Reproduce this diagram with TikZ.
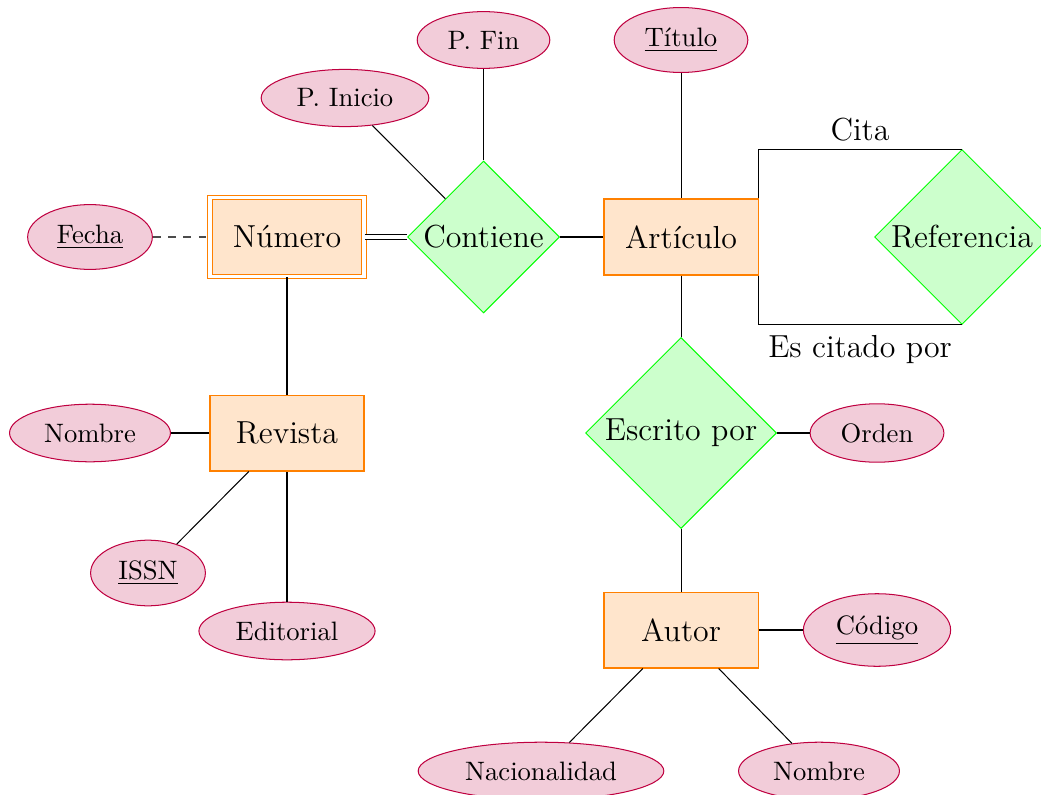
\documentclass[tikz,border=0pt]{standalone}
\usetikzlibrary{shapes.geometric}
\begin{document}
\begin{tikzpicture}[x=0.3922pt,y=-0.3922pt,
 entity/.style={rectangle,draw=orange,fill=orange!20,minimum width=60.4pt,minimum height=29.8pt,font=\fontsize{12.5}{15}\selectfont},
 weak/.style={entity,double,double distance=1.5pt,minimum height=31pt},
 rel/.style={diamond,draw=green,fill=green!20,inner sep=0pt,aspect=1,font=\fontsize{12.5}{15}\selectfont},
 attr/.style={ellipse,draw=purple,fill=purple!20,inner sep=4.3pt,font=\fontsize{10.45}{12.5}\selectfont},
 lbl/.style={font=\fontsize{12.5}{15}\selectfont}]
\useasboundingbox (0,0) rectangle (1041,795);
% entities and relationships
\node[weak] (num) at (287,237) {Número};
\node[rel,minimum size=59.6pt] (cont) at (483.5,237) {Contiene};
\node[entity] (art) at (681,237) {Artículo};
\node[rel,minimum size=68.6pt] (ref) at (962,237) {Referencia};
\node[rel,minimum size=74.9pt] (esc) at (681,433) {Escrito por};
\node[entity] (rev) at (287,433) {Revista};
\node[entity] (aut) at (681,630) {Autor};
% attributes
\node[attr] (fecha) at (90,237) {\underline{Fecha}};
\node[attr] (pini) at (345,98) {P. Inicio};
\node[attr] (pfin) at (483.5,40) {P. Fin};
\node[attr] (tit) at (681,40) {\underline{Título}};
\node[attr] (nomr) at (90,433) {Nombre};
\node[attr] (issn) at (148,573) {\underline{ISSN}};
\node[attr] (edit) at (287,631) {Editorial};
\node[attr] (orden) at (877,433) {Orden};
\node[attr] (cod) at (877,630) {\underline{Código}};
\node[attr] (nac) at (541,771) {Nacionalidad};
\node[attr] (noma) at (819,771) {Nombre};
% labels
\node[lbl] (cita) at (860,130) {Cita};
\node[lbl] (escit) at (860,350) {Es citado por};
% connectors
\draw[dashed,black!70] (fecha) -- (num);
\draw[double,double distance=1.5pt] (num.east) -- (cont.west);
\draw (pini) -- (cont);
\draw (pfin) -- (cont);
\draw (cont) -- (art);
\draw (tit) -- (art);
\draw (art.north east) |- (ref.north);
\draw (art.south east) |- (ref.south);
\draw (art) -- (esc);
\draw (esc) -- (orden);
\draw (esc) -- (aut);
\draw (aut) -- (cod);
\draw (aut) -- (nac);
\draw (aut) -- (noma);
\draw (num) -- (rev);
\draw (nomr) -- (rev);
\draw (issn) -- (rev);
\draw (edit) -- (rev);
\end{tikzpicture}
\end{document}
